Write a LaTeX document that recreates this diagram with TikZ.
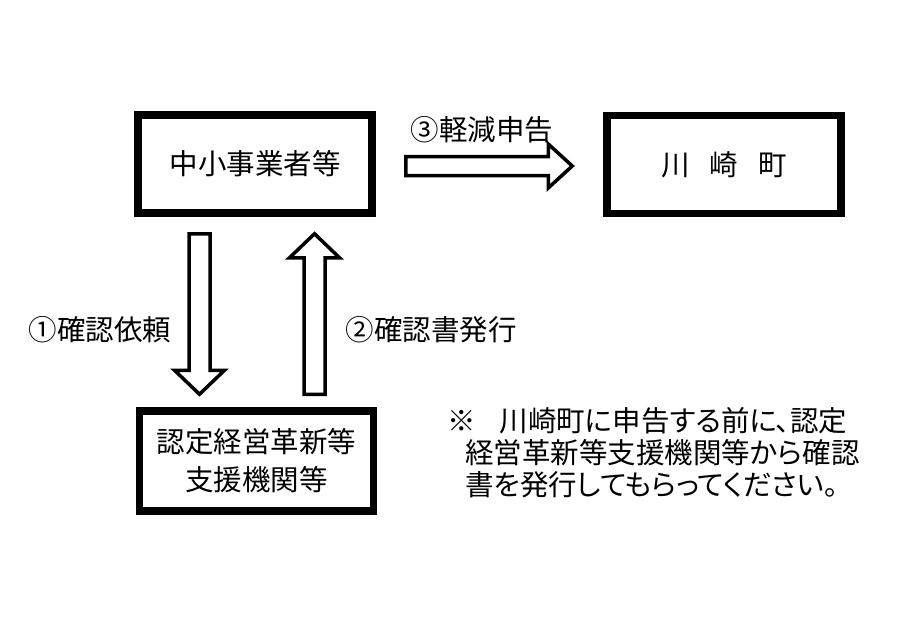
\documentclass[tikz,border=0pt]{standalone}
\usepackage{fontspec}
\newfontfamily\jpfont{Noto Sans CJK JP}
\newfontfamily\jpnote{Noto Sans CJK JP}[RawFeature=+palt]
\usetikzlibrary{calc,positioning}

% hollow block arrow: from, to, shaft half width, head half width, head length
\newcommand{\hollowarrow}[5]{%
  \coordinate (#1h) at ($(#2)!#5!(#1)$);
  \draw[arrowline] ($(#1)!#3!90:(#2)$) -- ($(#1h)!#3!90:(#2)$) -- ($(#1h)!#4!90:(#2)$) -- (#2)
    -- ($(#1h)!#4!-90:(#2)$) -- ($(#1h)!#3!-90:(#2)$) -- ($(#1)!#3!-90:(#2)$) -- cycle;}

\begin{document}
\begin{tikzpicture}[x=1pt,y=-1pt,
    box/.style={draw,line width=7.5pt,minimum width=234pt,minimum height=98pt,inner sep=0pt,
      align=center,font=\jpfont\fontsize{28.5}{38}\selectfont},
    arrowline/.style={line width=3.5pt,fill=white},
    lbl/.style={inner sep=0pt,font=\jpfont\fontsize{28.5}{34}\selectfont}]
    \fill[white] (0,0) rectangle (909,618);
    \useasboundingbox (0,0) rectangle (909,618);
    \node[box] (sme) at (255,164) {中小事業者等};
    \node[box] (town) at (724,164.5) {川\hspace{20pt}崎\hspace{20pt}町};
    \node[box,minimum height=100pt] (support) at (256.5,461) {認定経営革新等\\支援機関等};
    % arrows
    \coordinate (r) at ($(sme.east)+(30,2)$);
    \coordinate (rr) at ($(town.west)+(-31,1.5)$);
    \coordinate (d) at ($(sme.south)+(-55.5,17)$);
    \coordinate (dd) at ($(support.north)+(-57,-13)$);
    \coordinate (u) at ($(support.north)+(58,-13)$);
    \coordinate (uu) at ($(sme.south)+(59.5,17)$);
    \hollowarrow{r}{rr}{9.5pt}{22pt}{24pt}
    \hollowarrow{d}{dd}{10.5pt}{25pt}{24pt}
    \hollowarrow{u}{uu}{10.5pt}{25pt}{24pt}
    % labels
    \node[lbl] (l3) at (482,130) {③軽減申告};
    \node[lbl] (l1) at (100,330) {①確認依頼};
    \node[lbl] (l2) at (431,330) {②確認書発行};
    \node[anchor=north west,inner sep=0pt,align=left,
      font=\jpnote\fontsize{28.5}{32}\selectfont] (note) at (447,407)
      {※\hspace*{24pt}川崎町に申告する前に、認定\\
       \hspace*{18pt}経営革新等支援機関等から確認\\
       \hspace*{18pt}書を発行してもらってください。};
\end{tikzpicture}
\end{document}
